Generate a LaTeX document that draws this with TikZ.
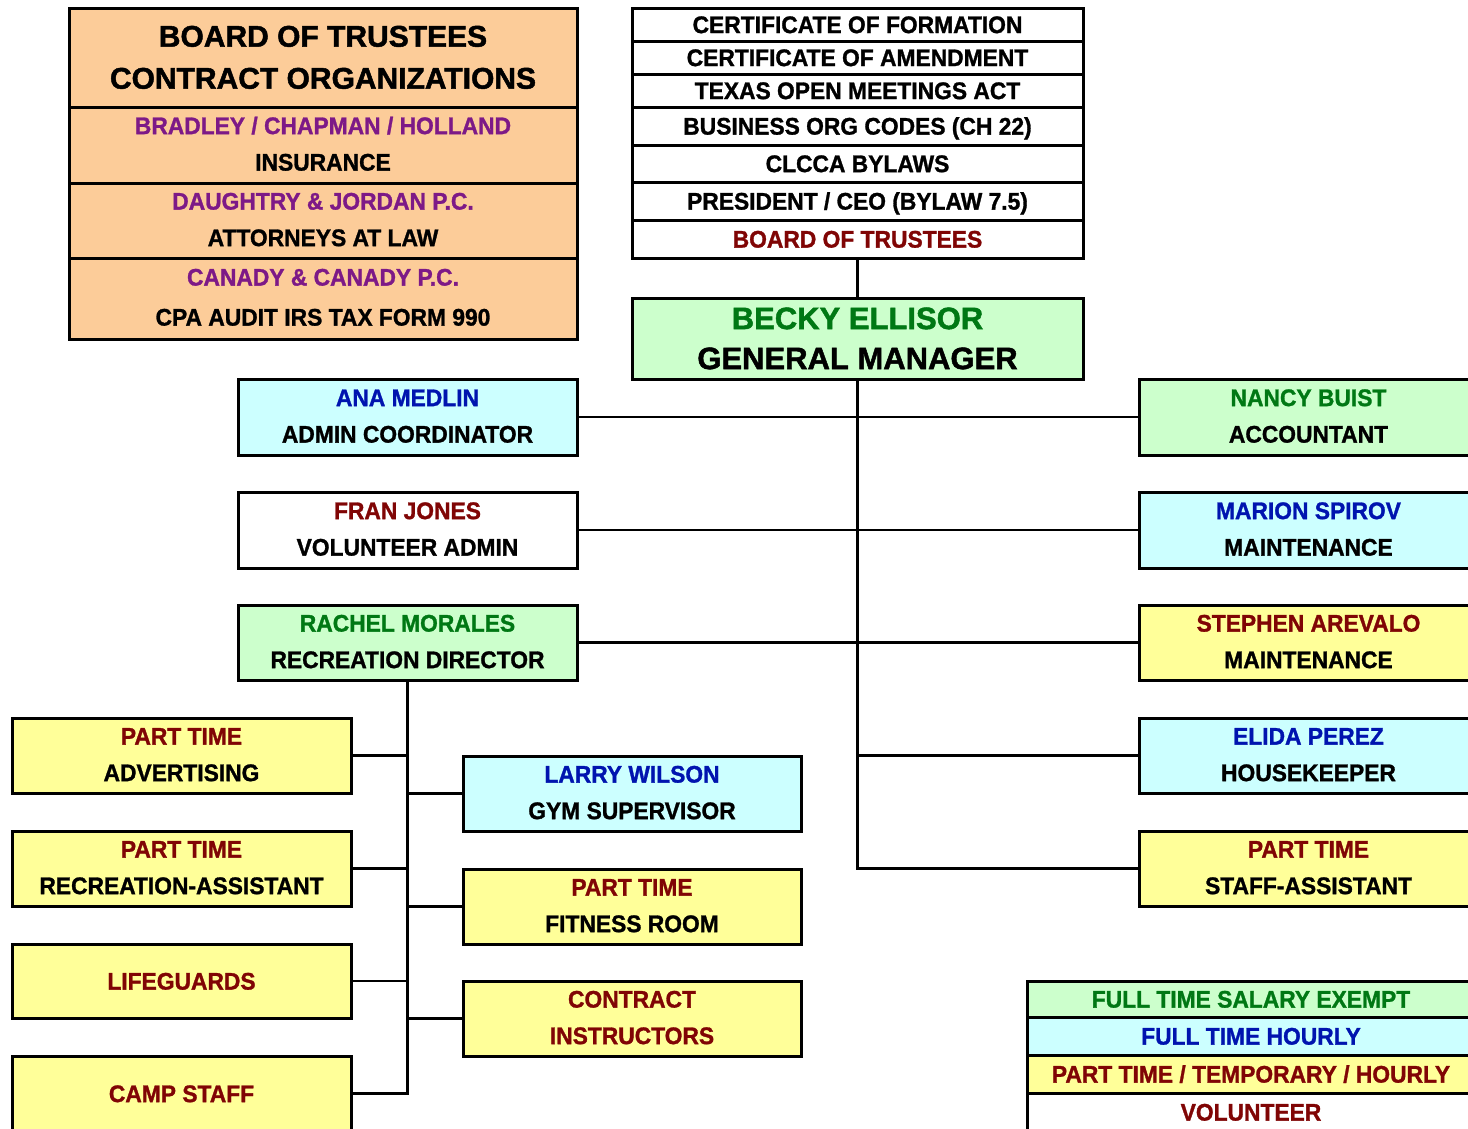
\documentclass[tikz,border=0pt]{standalone}
\usepackage{fontspec}
\newfontfamily\bodyfont{Liberation Sans}[UprightFont={* Bold}, FakeStretch=0.95, FakeBold=1.2]
\newfontfamily\headfont{Liberation Sans}[UprightFont={* Bold}, FakeStretch=1.0, FakeBold=1.5]
\definecolor{peach}{RGB}{252,204,153}
\definecolor{lgreen}{RGB}{204,255,204}
\definecolor{lcyan}{RGB}{204,255,255}
\definecolor{lyellow}{RGB}{255,255,153}
\definecolor{tpurple}{RGB}{125,25,135}
\definecolor{tred}{RGB}{128,5,5}
\definecolor{tblue}{RGB}{0,20,175}
\definecolor{tgreen}{RGB}{0,120,20}
\newcommand\bx[6]{\node[box, fill=#2, minimum width={#5-#3}, minimum height={#6-#4}] (#1) at ({(#3+#5)/2},{(#4+#6)/2}) {};}
\newcommand\twol[5]{%
  \node[t, text=#2] (#1-a) at ([yshift=19.5pt]#1.center) {#3};
  \node[t, text=#4] (#1-b) at ([yshift=-17pt]#1.center) {#5};}
\newcommand\onel[3]{\node[t, text=#2] (#1-a) at (#1.center) {#3};}
\begin{document}
\begin{tikzpicture}[x=1pt,y=-1pt,
  box/.style={draw=black, line width=3pt, inner sep=0pt, outer sep=0pt},
  link/.style={draw=black, line width=2.8pt},
  t/.style={font=\bodyfont\fontsize{24}{28}\selectfont, anchor=base, inner sep=0pt, yshift=-8.6pt},
  h/.style={font=\headfont\fontsize{30}{34}\selectfont, anchor=base, inner sep=0pt, yshift=-10.7pt},
  hg/.style={font=\headfont\fontsize{31}{36}\selectfont, anchor=base, inner sep=0pt, yshift=-11.1pt}]
\useasboundingbox (0,0) rectangle (1468,1128);
\clip (0,0) rectangle (1468,1128);
\fill[white] (0,0) rectangle (1468,1128);

% ---------- boxes ----------
% contract organizations
\bx{bocA}{peach}{69}{8}{577}{107}
\bx{bocB}{peach}{69}{107}{577}{183}
\bx{bocC}{peach}{69}{183}{577}{258}
\bx{bocD}{peach}{69}{258}{577}{339}
% governing documents
\bx{doc1}{white}{632}{8}{1083}{41}
\bx{doc2}{white}{632}{41}{1083}{74}
\bx{doc3}{white}{632}{74}{1083}{107}
\bx{doc4}{white}{632}{107}{1083}{145}
\bx{doc5}{white}{632}{145}{1083}{182}
\bx{doc6}{white}{632}{182}{1083}{220}
\bx{bot}{white}{632}{220}{1083}{258}
% general manager
\bx{gm}{lgreen}{632}{298}{1083}{379}
% left staff
\bx{ana}{lcyan}{238}{379}{577}{455}
\bx{fran}{white}{238}{492}{577}{568}
\bx{rachel}{lgreen}{238}{605}{577}{680}
% right staff
\bx{nancy}{lgreen}{1139}{379}{1478}{455}
\bx{marion}{lcyan}{1139}{492}{1478}{568}
\bx{stephen}{lyellow}{1139}{605}{1478}{680}
\bx{elida}{lcyan}{1139}{718}{1478}{793}
\bx{ptstaff}{lyellow}{1139}{831}{1478}{906}
% recreation left column
\bx{adv}{lyellow}{12}{718}{351}{793}
\bx{recasst}{lyellow}{12}{831}{351}{906}
\bx{life}{lyellow}{12}{944}{351}{1018}
\bx{camp}{lyellow}{12}{1056}{351}{1131}
% recreation middle column
\bx{larry}{lcyan}{463}{756}{801}{831}
\bx{fitness}{lyellow}{463}{869}{801}{944}
\bx{contract}{lyellow}{463}{981}{801}{1056}
% legend
\bx{leg1}{lgreen}{1027}{981}{1475}{1017}
\bx{leg2}{lcyan}{1027}{1017}{1475}{1055}
\bx{leg3}{lyellow}{1027}{1055}{1475}{1093}
\bx{leg4}{white}{1027}{1093}{1475}{1131}

% ---------- connectors ----------
\draw[link] (bot.south) -- (gm.north);
\draw[link] (gm.south) |- (ptstaff.west);
\draw[link] (ana.east) -- (nancy.west);
\draw[link] (fran.east) -- (marion.west);
\draw[link] (rachel.east) -- (stephen.west);
\draw[link] (gm.south |- elida.west) -- (elida.west);
\draw[link] (rachel.south) |- (camp.east);
\draw[link] (adv.east) -- (adv.east -| rachel.south);
\draw[link] (recasst.east) -- (recasst.east -| rachel.south);
\draw[link] (life.east) -- (life.east -| rachel.south);
\draw[link] (larry.west) -- (larry.west -| rachel.south);
\draw[link] (fitness.west) -- (fitness.west -| rachel.south);
\draw[link] (contract.west) -- (contract.west -| rachel.south);

% ---------- texts ----------
\node[h] (bocA-a) at ([yshift=21.5pt]bocA.center) {BOARD OF TRUSTEES};
\node[h] (bocA-b) at ([yshift=-20.5pt]bocA.center) {CONTRACT ORGANIZATIONS};
\twol{bocB}{tpurple}{BRADLEY / CHAPMAN / HOLLAND}{black}{INSURANCE}
\twol{bocC}{tpurple}{DAUGHTRY \& JORDAN P.C.}{black}{ATTORNEYS AT LAW}
\node[t, text=tpurple] (bocD-a) at ([yshift=21.5pt]bocD.center) {CANADY \& CANADY P.C.};
\node[t] (bocD-b) at ([yshift=-18.5pt]bocD.center) {CPA AUDIT IRS TAX FORM 990};

\onel{doc1}{black}{CERTIFICATE OF FORMATION}
\onel{doc2}{black}{CERTIFICATE OF AMENDMENT}
\onel{doc3}{black}{TEXAS OPEN MEETINGS ACT}
\onel{doc4}{black}{BUSINESS ORG CODES (CH 22)}
\onel{doc5}{black}{CLCCA BYLAWS}
\onel{doc6}{black}{PRESIDENT / CEO (BYLAW 7.5)}
\onel{bot}{tred}{BOARD OF TRUSTEES}

\node[hg, text=tgreen] (gm-a) at ([yshift=20.5pt]gm.center) {BECKY ELLISOR};
\node[hg] (gm-b) at ([yshift=-19.5pt]gm.center) {GENERAL MANAGER};

\twol{ana}{tblue}{ANA MEDLIN}{black}{ADMIN COORDINATOR}
\twol{fran}{tred}{FRAN JONES}{black}{VOLUNTEER ADMIN}
\twol{rachel}{tgreen}{RACHEL MORALES}{black}{RECREATION DIRECTOR}

\twol{nancy}{tgreen}{NANCY BUIST}{black}{ACCOUNTANT}
\twol{marion}{tblue}{MARION SPIROV}{black}{MAINTENANCE}
\twol{stephen}{tred}{STEPHEN AREVALO}{black}{MAINTENANCE}
\twol{elida}{tblue}{ELIDA PEREZ}{black}{HOUSEKEEPER}
\twol{ptstaff}{tred}{PART TIME}{black}{STAFF-ASSISTANT}

\twol{adv}{tred}{PART TIME}{black}{ADVERTISING}
\twol{recasst}{tred}{PART TIME}{black}{RECREATION-ASSISTANT}
\onel{life}{tred}{LIFEGUARDS}
\onel{camp}{tred}{CAMP STAFF}

\twol{larry}{tblue}{LARRY WILSON}{black}{GYM SUPERVISOR}
\twol{fitness}{tred}{PART TIME}{black}{FITNESS ROOM}
\twol{contract}{tred}{CONTRACT}{tred}{INSTRUCTORS}

\onel{leg1}{tgreen}{FULL TIME SALARY EXEMPT}
\onel{leg2}{tblue}{FULL TIME HOURLY}
\onel{leg3}{tred}{PART TIME / TEMPORARY / HOURLY}
\onel{leg4}{tred}{VOLUNTEER}
\end{tikzpicture}
\end{document}
